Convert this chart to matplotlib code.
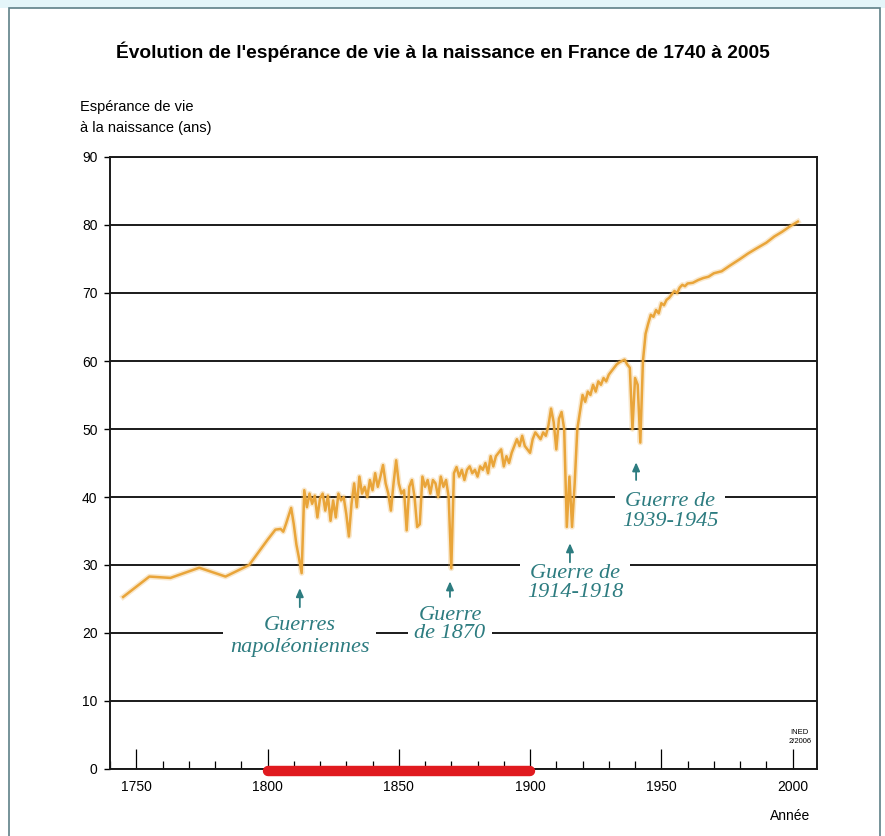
import matplotlib.pyplot as plt
from matplotlib.patches import Rectangle
from matplotlib.ticker import MultipleLocator

# (INED)
annees = [1745, 1755, 1763, 1774, 1784, 1793, 1800, 1803, 1805, 1806, 1807, 1808, 1809,
          1810, 1811, 1812, 1813, 1814, 1815, 1816, 1817, 1818, 1819, 1820, 1821, 1822,
          1823, 1824, 1825, 1826, 1827, 1828, 1829, 1830, 1831, 1832, 1833, 1834, 1835,
          1836, 1837, 1838, 1839, 1840, 1841, 1842, 1843, 1844, 1845, 1846, 1847, 1848,
          1849, 1850, 1851, 1852, 1853, 1854, 1855, 1856, 1857, 1858, 1859, 1860, 1861,
          1862, 1863, 1864, 1865, 1866, 1867, 1868, 1869, 1870, 1871, 1872, 1873, 1874,
          1875, 1876, 1877, 1878, 1879, 1880, 1881, 1882, 1883, 1884, 1885, 1886, 1887,
          1888, 1889, 1890, 1891, 1892, 1893, 1894, 1895, 1896, 1897, 1898, 1899, 1900,
          1901, 1902, 1903, 1904, 1905, 1906, 1907, 1908, 1909, 1910, 1911, 1912, 1913,
          1914, 1915, 1916, 1917, 1918, 1919, 1920, 1921, 1922, 1923, 1924, 1925, 1926,
          1927, 1928, 1929, 1930, 1931, 1932, 1933, 1934, 1935, 1936, 1937, 1938, 1939,
          1940, 1941, 1942, 1943, 1944, 1945, 1946, 1947, 1948, 1949, 1950, 1951, 1952,
          1953, 1954, 1955, 1956, 1957, 1958, 1959, 1960, 1962, 1964, 1966, 1968, 1970,
          1973, 1976, 1980, 1983, 1986, 1990, 1993, 1996, 1999, 2002]
esperance = [25.3, 28.3, 28.1, 29.6, 28.3, 30.0, 33.7, 35.2, 35.3, 34.9, 36.0, 37.2, 38.4,
             36.0, 33.0, 31.0, 28.8, 41.0, 38.5, 40.5, 39.0, 40.2, 37.0, 39.8, 40.5, 38.0,
             40.2, 36.5, 39.5, 37.0, 40.5, 39.5, 40.0, 37.5, 34.2, 39.0, 42.0, 38.5, 43.0,
             40.5, 41.5, 40.0, 42.5, 41.0, 43.5, 41.5, 43.0, 44.7, 42.0, 40.5, 38.0, 42.0,
             45.4, 42.0, 40.5, 41.0, 35.1, 41.5, 42.5, 40.0, 35.6, 36.0, 43.0, 41.5, 42.5,
             40.5, 42.5, 42.0, 40.0, 43.0, 41.5, 42.5, 40.0, 29.5, 43.5, 44.4, 43.0, 44.0,
             42.5, 44.0, 44.5, 43.5, 44.0, 43.0, 44.5, 44.0, 45.0, 43.5, 46.0, 44.5, 46.0,
             46.5, 47.0, 44.5, 46.0, 45.0, 46.5, 47.5, 48.5, 47.5, 49.0, 47.5, 47.0, 46.5,
             48.5, 49.5, 49.0, 48.5, 49.5, 49.0, 50.5, 53.0, 51.0, 47.0, 51.5, 52.5, 50.0,
             35.6, 43.0, 35.6, 42.0, 50.0, 52.5, 55.0, 54.0, 55.5, 55.0, 56.5, 55.5, 57.0,
             56.5, 57.5, 57.0, 58.0, 58.5, 59.0, 59.5, 59.8, 60.0, 60.2, 59.5, 59.0, 50.0,
             57.5, 56.5, 48.0, 60.0, 64.0, 65.5, 66.8, 66.5, 67.5, 67.0, 68.5, 68.2, 69.0,
             69.3, 69.8, 70.3, 70.0, 70.8, 71.2, 71.0, 71.4, 71.5, 71.9, 72.2, 72.4, 72.9,
             73.2, 74.0, 75.0, 75.8, 76.5, 77.4, 78.3, 79.0, 79.8, 80.5]

# guerres: (texte, x texte, y texte, x fleche, y queue, y pointe, interligne)
guerres = [("Guerres\nnapoléoniennes", 1812.3, 19.5, 1812.3, 23.8, 26.6, 1.2),
           ("Guerre\nde 1870", 1869.5, 21.3, 1869.5, 25.3, 27.6, 0.95),
           ("Guerre de\n1914-1918", 1917.1, 27.3, 1915.2, 30.4, 33.2, 1.0),
           ("Guerre de\n1939-1945", 1953.3, 37.9, 1940.4, 42.5, 45.1, 1.05)]

teal = "#2d7c80"
orange = "#e9a53a"

plt.rcParams["font.family"] = ["Liberation Sans", "DejaVu Sans"]

fig = plt.figure(figsize=(8.85, 8.36), dpi=100)
ax = fig.add_axes([110/885, 1 - 769/836, 707/885, 612/836])

# cadre
fig.patches.append(Rectangle((0, 1 - 8/836), 1, 8/836, transform=fig.transFigure,
                             facecolor="#e4f5f9", edgecolor="none"))
fig.patches.append(Rectangle((9/885, -0.01), 871/885, 1.01 - 8/836, transform=fig.transFigure,
                             facecolor="none", edgecolor="#5f8088", lw=1.2))

ax.plot(annees, esperance, color=orange, lw=4, alpha=0.25, zorder=2)
ax.plot(annees, esperance, color=orange, lw=1.8, zorder=2)

ax.set_xlim(1740, 2009.3)
ax.set_ylim(0, 90)
ax.xaxis.set_major_locator(MultipleLocator(50))
ax.xaxis.set_minor_locator(MultipleLocator(10))
ax.yaxis.set_major_locator(MultipleLocator(10))
ax.tick_params(axis="x", which="major", direction="in", length=14.4, width=0.9,
               labelsize=10, pad=8)
ax.tick_params(axis="x", which="minor", direction="in", length=5.8, width=0.9)
ax.tick_params(axis="y", length=4, width=1, labelsize=10, pad=5)
ax.yaxis.grid(True, color="#1a1a1a", lw=1.4)
ax.set_axisbelow(True)
for s in ax.spines.values():
    s.set_linewidth(1.4)
    s.set_color("#1a1a1a")

# periode 1800-1900
ax.plot([1800, 1900], [-0.3, -0.3], color="#e01a1f", lw=7.5, solid_capstyle="round",
        clip_on=False, zorder=5)

for txt, xt, yt, xa, y0, y1, ls in guerres:
    ax.text(xt, yt, txt, ha="center", va="center", color=teal, fontsize=16,
            family="Liberation Serif", style="italic", linespacing=ls, zorder=4,
            bbox=dict(boxstyle="square,pad=0.3", fc="white", ec="none"))
    ax.annotate("", xy=(xa, y1), xytext=(xa, y0), zorder=4,
                arrowprops=dict(arrowstyle="-|>,head_length=0.5,head_width=0.22",
                                color=teal, lw=1.3, shrinkA=0, shrinkB=0))

ax.text(2002.7, 4.7, "INED\n2/2006", ha="center", va="center", fontsize=5.5,
        linespacing=1.5)

fig.text(0.5, 1 - 52/836, "Évolution de l'espérance de vie à la naissance en France de 1740 à 2005",
         ha="center", va="center", fontsize=13.8, fontweight="bold")
fig.text(80/885, 1 - 107/836, "Espérance de vie", ha="left", va="center", fontsize=10.5)
fig.text(80/885, 1 - 128/836, "à la naissance (ans)", ha="left", va="center", fontsize=10.5)
fig.text(790/885, 1 - 816/836, "Année", ha="center", va="center", fontsize=10)

fig.savefig("out.png", dpi=100)
